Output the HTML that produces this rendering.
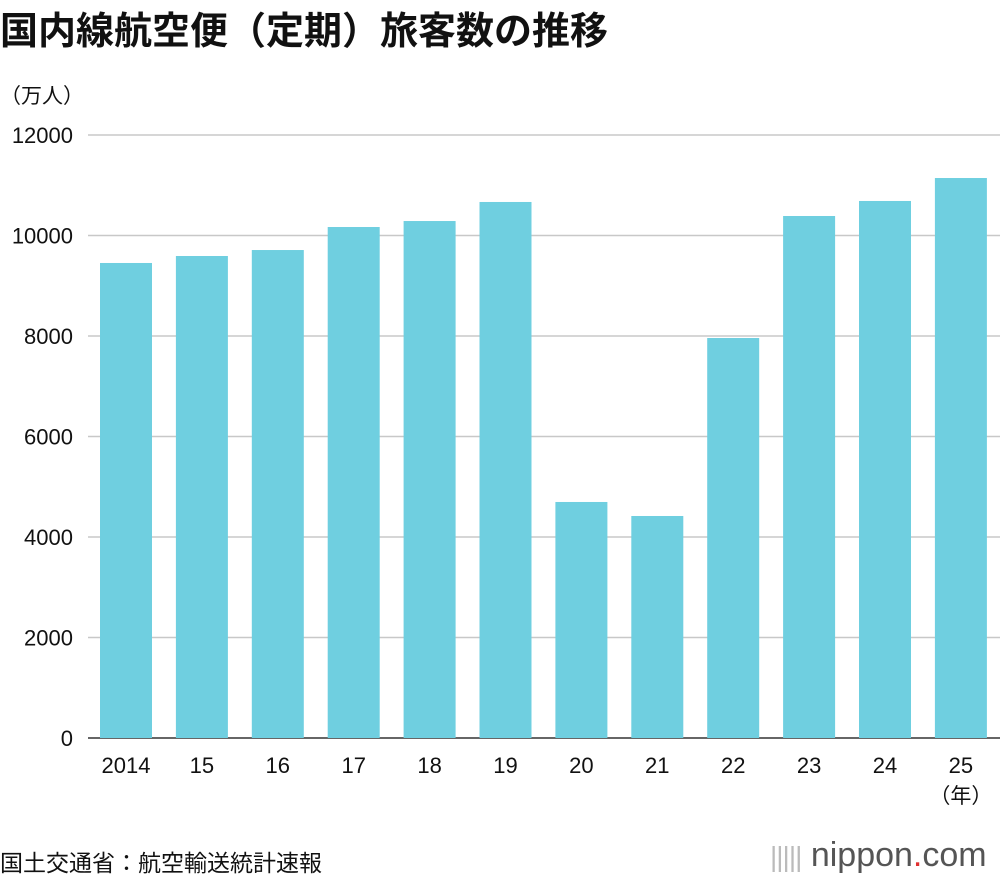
<!DOCTYPE html>
<html><head><meta charset="utf-8">
<style>
body{margin:0;background:#fff;font-family:"Liberation Sans","Noto Sans CJK JP",sans-serif;}
#wrap{position:relative;width:1000px;height:880px;overflow:hidden;}
.t{position:absolute;white-space:nowrap;color:#111;}
</style></head><body>
<div id="wrap">
<div class="t" style="left:0;top:0px;font-size:38px;font-weight:bold;">国内線航空便（定期）旅客数の推移</div>
<div class="t" style="left:0;top:80px;font-size:21px;">（万人）</div>
<div class="t" style="left:0;top:844px;font-size:23px;">国土交通省：航空輸送統計速報</div>
<div class="t" style="left:770px;top:836px;font-size:34px;color:#555;"><span style="color:#bbb;font-size:28px;letter-spacing:-1px;">|||||</span> nippon<span style="color:#e03030">.</span>com</div>
<svg id="chart" width="1000" height="880" style="position:absolute;left:0;top:0;"></svg>
</div>
<script>
const categories=["2014","15","16","17","18","19","20","21","22","23","24","25"];
const values=[9453,9592,9711,10169,10288,10667,4697,4418,7960,10388,10687,11144];
const yTicks=[0,2000,4000,6000,8000,10000,12000];
const NS="http://www.w3.org/2000/svg";
const svg=document.getElementById('chart');
const y=v=>738-v*(738-135)/12000;
const x=i=>100+i*75.9;
const bw=52;
function mk(t,a){const e=document.createElementNS(NS,t);for(const k in a)e.setAttribute(k,a[k]);svg.appendChild(e);return e;}
yTicks.forEach(v=>{
  const l=mk('line',{x1:88,x2:1000,y1:y(v),y2:y(v),stroke:v===0?'#333':'#c8c8c8','stroke-width':1.5});
  
  
  const t=mk('text',{x:73,y:y(v)+8,'text-anchor':'end','font-size':22,fill:'#111','font-family':'Liberation Sans, sans-serif'});
  t.textContent=v;
  
  
});
categories.forEach((c,i)=>{
  const r=mk('rect',{x:x(i),y:y(values[i]),width:bw,height:y(0)-y(values[i]),fill:'#6fcfe0'});
  
  
  const t=mk('text',{x:x(i)+bw/2,y:773,'text-anchor':'middle','font-size':22,fill:'#111','font-family':'Liberation Sans, sans-serif'});
  t.textContent=c;
  
  
});
const u=mk('text',{x:x(11)+bw/2,y:803,'text-anchor':'middle','font-size':21,fill:'#111','font-family':'Liberation Sans, Noto Sans CJK JP, sans-serif'});
u.textContent='（年）';


</script>
</body></html>
